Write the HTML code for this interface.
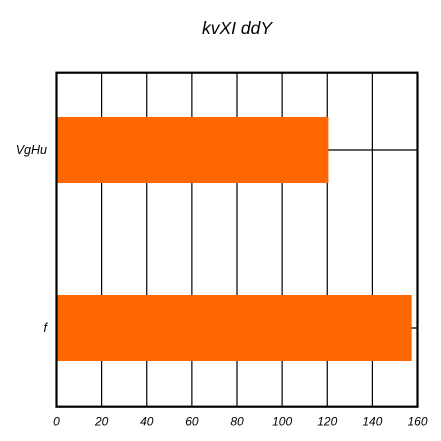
<!DOCTYPE html>
<html><head><meta charset="utf-8"><style>
html,body{margin:0;padding:0;background:#fff;width:441px;height:441px;overflow:hidden}
text{font-family:"Liberation Sans",sans-serif;font-style:italic}
</style></head><body>
<svg id="chart" width="441" height="441" xmlns="http://www.w3.org/2000/svg">
<text x="237" y="34" font-size="17.5" text-anchor="middle" fill="#000">kvXI ddY</text>
</svg>
<script>
const categories = ["VgHu", "f"];
const values = [120.5, 157.4];
const xTicks = [0, 20, 40, 60, 80, 100, 120, 140, 160];

const L = 56.5, R = 417.5, T = 72.7, B = 406.7;
const svg = document.getElementById('chart');
const NS = 'http://www.w3.org/2000/svg';
function x(v){ return L + (v - 0) / 160 * (R - L); }
function y(i){ return T + 77.3 + i * 178; }
function mk(tag, attrs){ const e = document.createElementNS(NS, tag); for (const k in attrs) e.setAttribute(k, attrs[k]); svg.appendChild(e); return e; }

xTicks.forEach(t => {
  const g = mk('line', {x1: x(t), x2: x(t), y1: T, y2: B, stroke: '#000', 'stroke-width': 1.2});
  
  
  const lb = mk('text', {x: x(t), y: B + 19, 'font-size': 12, 'text-anchor': 'middle', fill: '#000'});
  lb.textContent = t;
  
  
});
categories.forEach((c, i) => {
  const g = mk('line', {x1: L, x2: R, y1: y(i), y2: y(i), stroke: '#000', 'stroke-width': 1.2});
  
  
  const bar = mk('rect', {x: L, y: y(i) - 33, width: x(values[i]) - L, height: 66, fill: '#ff6600'});
  
  
  const lb = mk('text', {x: 47, y: y(i) + 4, 'font-size': 12.5, 'text-anchor': 'end', fill: '#000'});
  lb.textContent = c;
  
  
});
const frame = mk('rect', {x: L, y: T, width: R - L, height: B - T, fill: 'none', stroke: '#000', 'stroke-width': 2.2});


</script>
</body></html>
